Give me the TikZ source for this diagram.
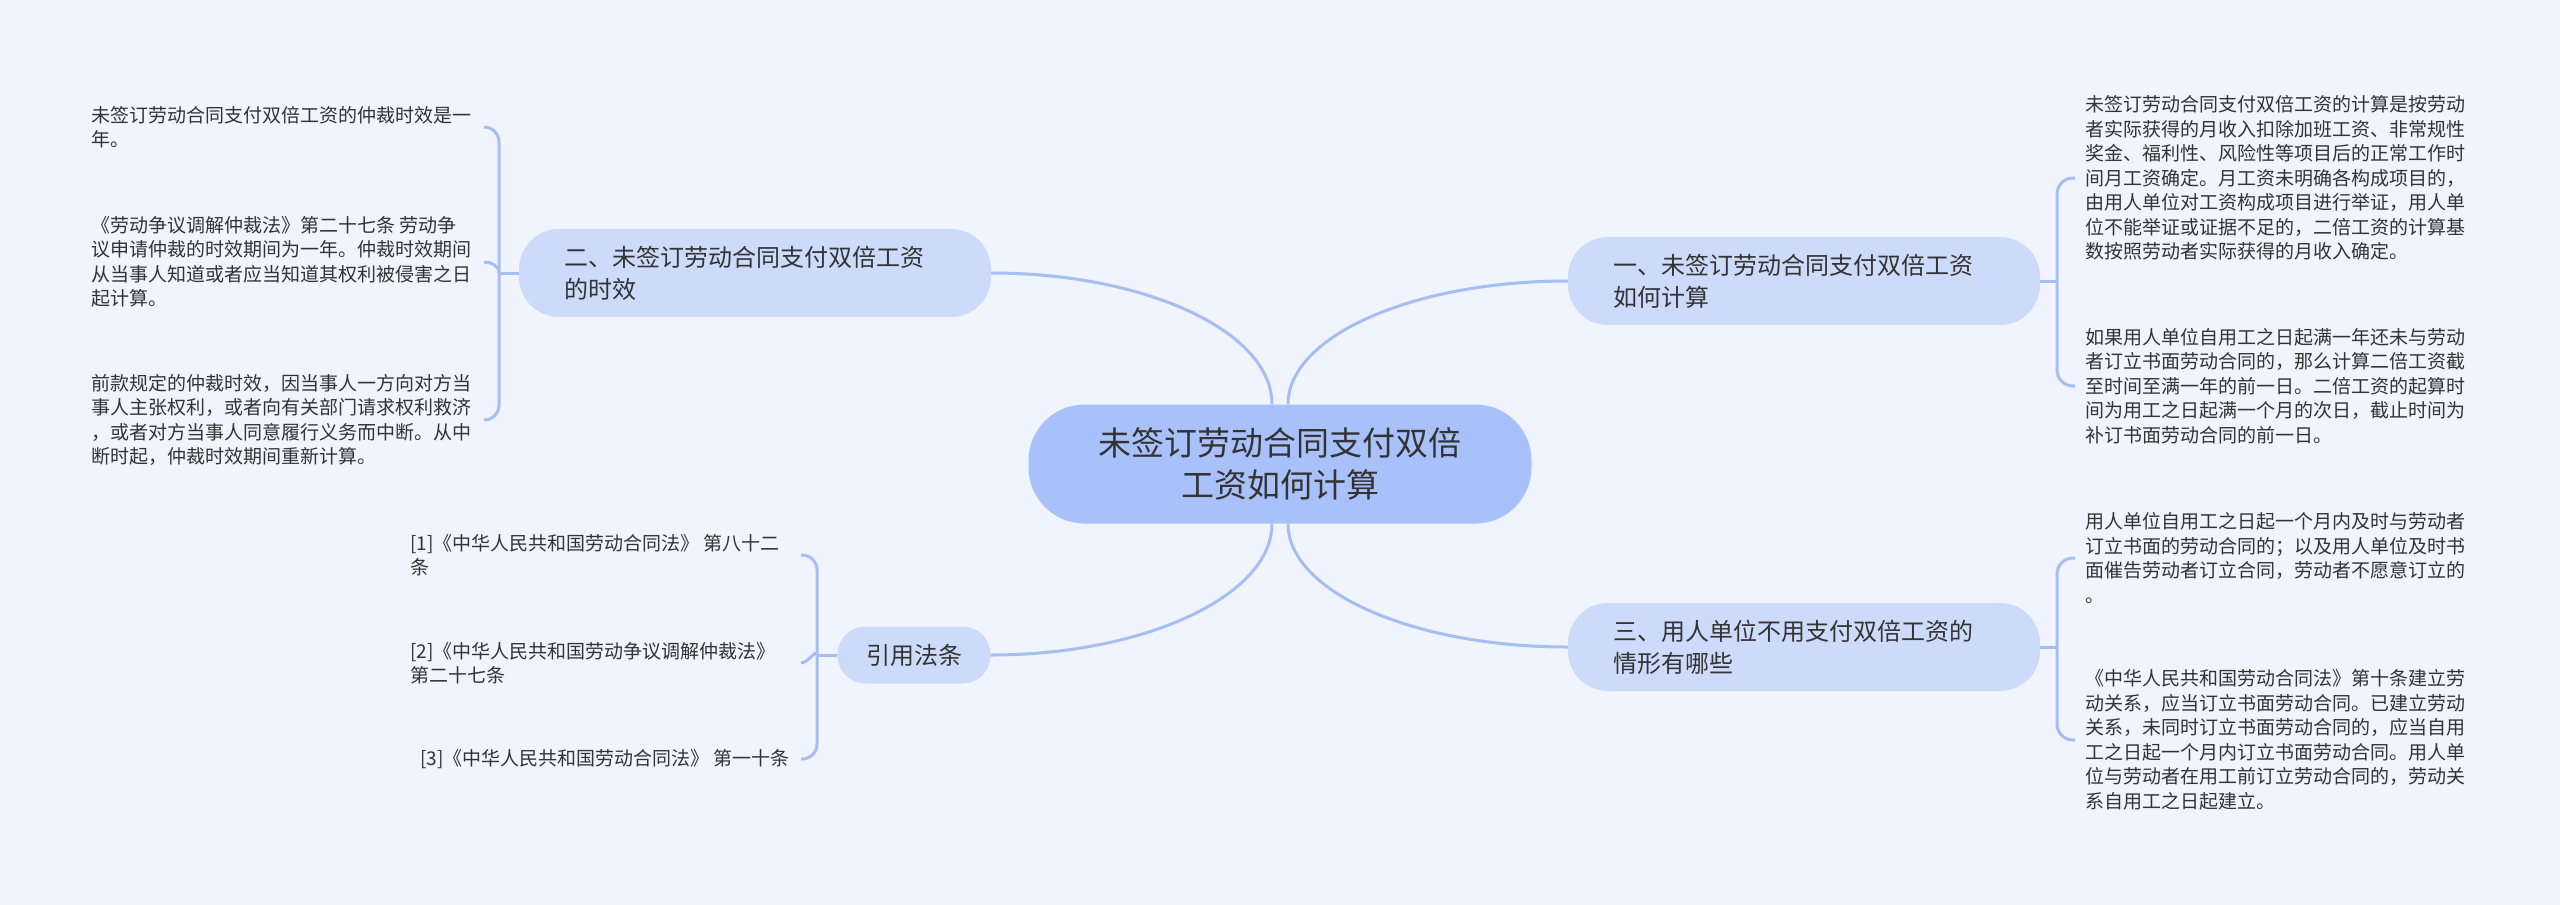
\documentclass[tikz,border=0pt]{standalone}
\usepackage{fontspec}
\setmainfont{Noto Sans CJK SC}
\usetikzlibrary{positioning}

\definecolor{bgcol}{HTML}{EFF4FD}
\definecolor{rootcol}{HTML}{A9C1FA}
\definecolor{branchcol}{HTML}{CCDBFA}
\definecolor{linecol}{HTML}{A6BEF4}
\definecolor{textcol}{HTML}{333333}

\begin{document}
\begin{tikzpicture}[x=1pt, y=-1pt,
  link/.style={draw=linecol, line width=3pt},
  rootbox/.style={fill=rootcol, rounded corners=56pt, minimum width=503pt, minimum height=119pt,
    align=center, text=textcol, font=\fontsize{33pt}{42pt}\selectfont},
  branchbox/.style={fill=branchcol, rounded corners=40pt, text width=382pt, inner xsep=45pt,
    inner ysep=0pt, minimum height=88pt, align=left, text=textcol, font=\fontsize{24pt}{32pt}\selectfont},
  lawbox/.style={fill=branchcol, rounded corners=28pt, minimum width=153pt, minimum height=57pt,
    text=textcol, font=\fontsize{24pt}{32pt}\selectfont},
  leaf/.style={anchor=west, align=left, inner sep=0pt, text=textcol, font=\fontsize{19pt}{24.5pt}\selectfont}]
\fill[bgcol] (0,0) rectangle (2560,905);

\node[rootbox] (root) at (1280,464) {未签订劳动合同支付双倍\\工资如何计算};
\node[branchbox] (calc) at (1804,281) {一、未签订劳动合同支付双倍工资\\如何计算};
\node[branchbox] (limit) at (755,273) {二、未签订劳动合同支付双倍工资\\的时效};
\node[branchbox] (exempt) at (1804,647) {三、用人单位不用支付双倍工资的\\情形有哪些};
\node[lawbox] (law) at (914,655) {引用法条};

\draw[link] ([xshift=8pt]root.north) .. controls +(0,-68) and +(-155,0) .. (calc.west);
\draw[link] ([xshift=-8pt]root.north) .. controls +(0,-73) and +(154,0) .. (limit.east);
\draw[link] ([xshift=8pt]root.south) .. controls +(0,68) and +(-155,0) .. (exempt.west);
\draw[link] ([xshift=-8pt]root.south) .. controls +(0,72) and +(154,0) .. (law.east);

% leaves of calc
\node[leaf] (calc1) at (2085,178) {未签订劳动合同支付双倍工资的计算是按劳动\\者实际获得的月收入扣除加班工资、非常规性\\奖金、福利性、风险性等项目后的正常工作时\\间月工资确定。月工资未明确各构成项目的，\\由用人单位对工资构成项目进行举证，用人单\\位不能举证或证据不足的，二倍工资的计算基\\数按照劳动者实际获得的月收入确定。};
\node[leaf] (calc2) at (2085,386) {如果用人单位自用工之日起满一年还未与劳动\\者订立书面劳动合同的，那么计算二倍工资截\\至时间至满一年的前一日。二倍工资的起算时\\间为用工之日起满一个月的次日，截止时间为\\补订书面劳动合同的前一日。};
\coordinate (jcalc) at (2057,281);
\coordinate (ecalc) at (2075,0);
\draw[link] (calc.east) -- (jcalc);
\draw[link, rounded corners=16pt] (jcalc) |- (calc1.west -| ecalc);
\draw[link, rounded corners=16pt] (jcalc) |- (calc2.west -| ecalc);

% leaves of exempt
\node[leaf] (exempt1) at (2085,558) {用人单位自用工之日起一个月内及时与劳动者\\订立书面的劳动合同的；以及用人单位及时书\\面催告劳动者订立合同，劳动者不愿意订立的\\。};
\node[leaf] (exempt2) at (2085,740) {《中华人民共和国劳动合同法》第十条建立劳\\动关系，应当订立书面劳动合同。已建立劳动\\关系，未同时订立书面劳动合同的，应当自用\\工之日起一个月内订立书面劳动合同。用人单\\位与劳动者在用工前订立劳动合同的，劳动关\\系自用工之日起建立。};
\coordinate (jexempt) at (2057,647);
\draw[link] (exempt.east) -- (jexempt);
\draw[link, rounded corners=16pt] (jexempt) |- (exempt1.west -| ecalc);
\draw[link, rounded corners=16pt] (jexempt) |- (exempt2.west -| ecalc);

% leaves of limit
\node[leaf] (limit1) at (91,127) {未签订劳动合同支付双倍工资的仲裁时效是一\\年。};
\node[leaf] (limit2) at (91,262) {《劳动争议调解仲裁法》第二十七条 劳动争\\议申请仲裁的时效期间为一年。仲裁时效期间\\从当事人知道或者应当知道其权利被侵害之日\\起计算。};
\node[leaf] (limit3) at (91,420) {前款规定的仲裁时效，因当事人一方向对方当\\事人主张权利，或者向有关部门请求权利救济\\，或者对方当事人同意履行义务而中断。从中\\断时起，仲裁时效期间重新计算。};
\coordinate (jlimit) at (499,273);
\coordinate (elimit) at (484,0);
\draw[link] (limit.west) -- (jlimit);
\draw[link, rounded corners=15pt] (jlimit) |- (limit1.east -| elimit);
\draw[link] (jlimit) to[out=90, in=0] (limit2.east -| elimit);
\draw[link, rounded corners=15pt] (jlimit) |- (limit3.east -| elimit);

% leaves of law
\node[leaf] (law1) at (410,555) {[1]《中华人民共和国劳动合同法》 第八十二\\条};
\node[leaf] (law2) at (410,663) {[2]《中华人民共和国劳动争议调解仲裁法》\\第二十七条};
\node[leaf] (law3) at (420,759) {[3]《中华人民共和国劳动合同法》 第一十条};
\coordinate (jlaw) at (817,655);
\coordinate (elaw) at (801,0);
\draw[link] (law.west) -- (jlaw);
\draw[link, rounded corners=15pt] (jlaw) |- (law1.east -| elaw);
\draw[link] (jlaw) to[out=90, in=0] (law2.east -| elaw);
\draw[link, rounded corners=15pt] (jlaw) |- (law3.east -| elaw);
\end{tikzpicture}
\end{document}
